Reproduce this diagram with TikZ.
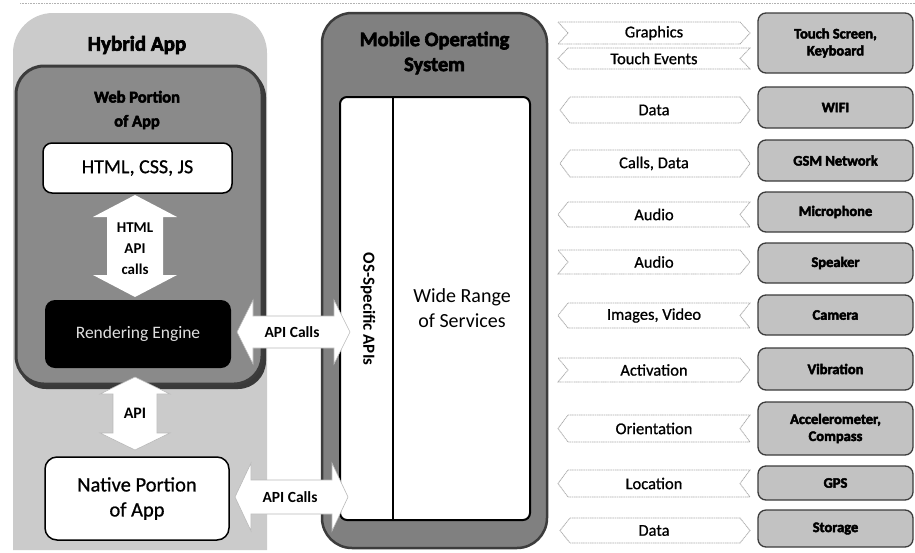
\documentclass[tikz,border=0pt]{standalone}
\usepackage{fontspec}
\setmainfont{Carlito}
\newfontfamily\heavy[BoldFeatures={FakeBold=3}]{Carlito}
\newfontfamily\semi[UprightFeatures={FakeBold=0.8}]{Carlito}
\usetikzlibrary{calc}
\definecolor{outerg}{HTML}{CBCBCB}
\definecolor{webg}{HTML}{8A8A8A}
\definecolor{osg}{HTML}{808080}
\definecolor{devg}{HTML}{C2C2C2}
\definecolor{rim}{HTML}{3C3C3C}
\tikzset{
  box/.style={inner sep=0pt, align=center},
  whitebox/.style={box, draw=black, line width=1.5pt, fill=white, rounded corners=9pt},
  blockarrow/.style={fill=white, draw=gray!55, line width=0.6pt, line join=miter},
  bline/.style={fill=white, draw=gray!65, line width=0.8pt, dash pattern=on 1.2pt off 0.6pt},
  btext/.style={inner sep=0pt, font=\semi\fontsize{16.5}{18}\selectfont},
  device/.style={box, draw=rim, line width=1.3pt, fill=devg, rounded corners=8pt,
     minimum width=155pt, font=\heavy\bfseries\fontsize{14.5}{17}\selectfont},
}
\newcommand\bannerpath[5]{% type, y1, y2, name, text
  \pgfmathsetmacro\ym{(#2+#3)/2}
  \ifcase#1\relax
    % 0 = right pointing
    \path[bline] (558,#2) -- (740,#2) -- (750,\ym) -- (740,#3) -- (558,#3) -- (568,\ym) -- cycle;
  \or
    % 1 = left pointing
    \path[bline] (568,#2) -- (750,#2) -- (740,\ym) -- (750,#3) -- (568,#3) -- (558,\ym) -- cycle;
  \or
    % 2 = both
    \path[bline] (570,#2) -- (740,#2) -- (750,\ym) -- (740,#3) -- (570,#3) -- (560,\ym) -- cycle;
  \fi
  \node[btext] (#4) at (654,\ym) {#5};
}
\begin{document}
\begin{tikzpicture}[x=1pt,y=-1pt]
\useasboundingbox (0,0) rectangle (915,552);
\fill[white] (0,0) rectangle (915,552);
\draw[gray!60, line width=0.6pt, dash pattern=on 0.8pt off 0.8pt] (20,3) -- (915,3);

% ---------- Hybrid App ----------
\fill[outerg] (13,550) -- (13,53) arc[start angle=180, end angle=270, radius=40] -- (227,13)
   arc[start angle=270, end angle=360, radius=40] -- (267,550) -- cycle;
\node[box, font=\heavy\bfseries\fontsize{21}{24}\selectfont] (hybrid) at (137,45) {Hybrid App};

% Web portion
\fill[gray!45!black, rounded corners=28pt] (18,69) rectangle (266,389);
\node[box, draw=rim, line width=3pt, fill=webg, rounded corners=28pt,
      minimum width=246pt, minimum height=318pt] (web) at (139,225) {};
\node[box, font=\heavy\bfseries\fontsize{16.5}{24}\selectfont] (webtitle) at (137,110) {Web Portion\\of App};

\node[whitebox, minimum width=189pt, minimum height=50pt, font=\semi\fontsize{20}{22}\selectfont] (html) at (137.5,168) {HTML, CSS, JS};
\node[box, fill=black, rounded corners=10pt, minimum width=186pt, minimum height=68pt,
      text=gray!25, font=\fontsize{17.5}{19}\selectfont] (render) at (138,334) {Rendering Engine};

% HTML API calls arrow
\path[fill=white] (135,195) -- (177,217) -- (163,217) -- (163,275) -- (177,275) -- (135,297)
   -- (93,275) -- (107,275) -- (107,217) -- (93,217) -- cycle;
\node[box, font=\bfseries\fontsize{15}{21}\selectfont] (htmlapi) at (135,249) {HTML\\API\\calls};

% Native portion
\node[whitebox, minimum width=184pt, minimum height=83pt, rounded corners=12pt,
      font=\semi\fontsize{20.5}{25}\selectfont] (native) at (137,498.5) {Native Portion\\of App};

% API arrow
\path[blockarrow] (135,377) -- (170,394) -- (157,394) -- (157,433) -- (170,433) -- (135,450)
   -- (100,433) -- (113,433) -- (113,394) -- (100,394) -- cycle;
\node[box, font=\bfseries\fontsize{16}{18}\selectfont] (api) at (135,413) {API};

% ---------- Mobile OS ----------
\node[box, draw=rim, line width=2.5pt, fill=osg, rounded corners=30pt,
      minimum width=225pt, minimum height=535pt] (os) at (434.5,280.5) {};
\node[box, font=\heavy\bfseries\fontsize{20.5}{25}\selectfont] (ostitle) at (434.5,53) {Mobile Operating\\System};
\node[box, draw=black, line width=2pt, fill=white, rounded corners=7pt,
      minimum width=190pt, minimum height=423pt] (osin) at (435,308.5) {};
\draw[black, line width=1.5pt] (393,97) -- (393,520);
\node[box, rotate=-90, font=\bfseries\fontsize{17}{19}\selectfont] (osapis) at (368,309) {OS-Specific APIs};
\node[box, font=\fontsize{20}{25}\selectfont] (wide) at (462,308) {Wide Range\\of Services};

% API Calls arrows
\path[blockarrow] (237,332) -- (253,300) -- (253,316) -- (334,316) -- (334,300) -- (350,332)
   -- (334,364) -- (334,348) -- (253,348) -- (253,364) -- cycle;
\node[box, font=\bfseries\fontsize{15.5}{17}\selectfont] (calls1) at (292,332) {API Calls};
\path[blockarrow] (235,497) -- (251,463) -- (251,480) -- (332,480) -- (332,463) -- (348,497)
   -- (332,531) -- (332,514) -- (251,514) -- (251,531) -- cycle;
\node[box, font=\bfseries\fontsize{15.5}{17}\selectfont] (calls2) at (290,497) {API Calls};

% ---------- Right column ----------
\bannerpath{0}{22}{44}{graphics}{Graphics}
\bannerpath{1}{48}{69}{touchev}{Touch Events}
\bannerpath{2}{97}{123}{data1}{Data}
\bannerpath{2}{150}{177}{calls}{Calls, Data}
\bannerpath{1}{202}{227}{audio1}{Audio}
\bannerpath{0}{250}{274}{audio2}{Audio}
\bannerpath{1}{303}{328}{images}{Images, Video}
\bannerpath{0}{358}{382}{activ}{Activation}
\bannerpath{1}{415}{442}{orient}{Orientation}
\bannerpath{1}{470}{497}{locat}{Location}
\bannerpath{2}{518}{543}{data2}{Data}

\node[device, minimum height=60pt] (touch) at (835.5,43) {Touch Screen,\\Keyboard};
\node[device, minimum height=41pt] (wifi) at (835.5,107.5) {WIFI};
\node[device, minimum height=41pt] (gsm) at (835.5,160.5) {GSM Network};
\node[device, minimum height=40pt] (mic) at (835.5,212) {Microphone};
\node[device, minimum height=40pt] (speaker) at (835.5,263) {Speaker};
\node[device, minimum height=40pt] (camera) at (835.5,315) {Camera};
\node[device, minimum height=42pt] (vib) at (835.5,369) {Vibration};
\node[device, minimum height=53pt] (accel) at (835.5,428.5) {Accelerometer,\\Compass};
\node[device, minimum height=34pt] (gps) at (835.5,483) {GPS};
\node[device, minimum height=37pt] (storage) at (835.5,528.5) {Storage};
\end{tikzpicture}
\end{document}
